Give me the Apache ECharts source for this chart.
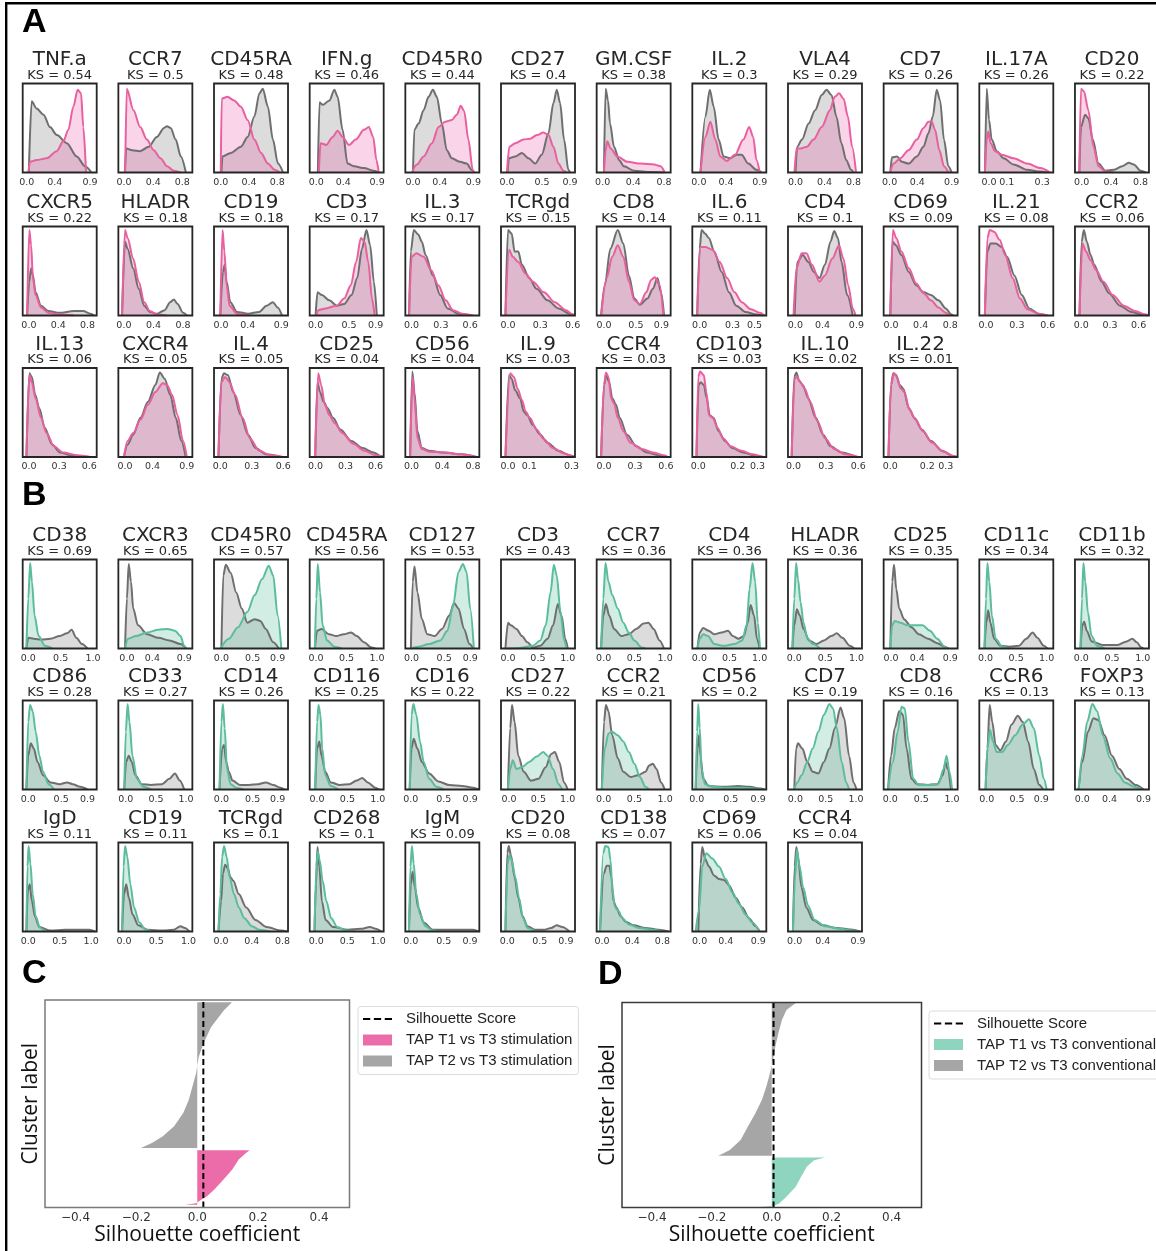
<!DOCTYPE html>
<html>
<head>
<meta charset="utf-8">
<title>Marker distributions and silhouette scores</title>
<script src="https://cdn.jsdelivr.net/npm/echarts@6/dist/echarts.min.js"></script>
<style>
  html, body { margin: 0; padding: 0; background: #ffffff; }
  #chart { width: 1156px; height: 1251px; }
</style>
</head>
<body>
<div id="chart"></div>
<script>
// ---------------- Panel A: stimulation markers (T2 vs T3 in grey, T1 vs T3 in pink) ----------------
const stimMarkers = ['TNF.a','CCR7','CD45RA','IFN.g','CD45R0','CD27','GM.CSF','IL.2','VLA4','CD7','IL.17A','CD20',
  'CXCR5','HLADR','CD19','CD3','IL.3','TCRgd','CD8','IL.6','CD4','CD69','IL.21','CCR2',
  'IL.13','CXCR4','IL.4','CD25','CD56','IL.9','CCR4','CD103','IL.10','IL.22'];
const stimKS = [0.54,0.5,0.48,0.46,0.44,0.4,0.38,0.3,0.29,0.26,0.26,0.22,
  0.22,0.18,0.18,0.17,0.17,0.15,0.14,0.11,0.1,0.09,0.08,0.06,
  0.06,0.05,0.05,0.04,0.04,0.03,0.03,0.03,0.02,0.01];
const stimTicks = [
  [0,0.4,0.9],[0,0.4,0.8],[0,0.4,0.8],[0,0.4,0.9],[0,0.4,0.9],[0,0.5,0.9],[0,0.4,0.8],[0,0.4,0.9],[0,0.4,0.8],[0,0.4,0.9],[0,0.1,0.3],[0,0.4,0.8],
  [0,0.4,0.8],[0,0.4,0.8],[0,0.4,0.9],[0,0.5,0.9],[0,0.3,0.6],[0,0.3,0.6],[0,0.5,0.9],[0,0.3,0.5],[0,0.4,0.9],[0,0.4,0.8],[0,0.3,0.6],[0,0.3,0.6],
  [0,0.3,0.6],[0,0.4,0.9],[0,0.3,0.6],[0,0.3,0.6],[0,0.4,0.8],[0,0.1,0.3],[0,0.3,0.6],[0,0.2,0.3],[0,0.3,0.6],[0,0.2,0.3]];
const stimRange = [
  [-0.057,0.995],[-0.079,0.939],[-0.095,0.952],[-0.097,0.997],[-0.114,0.989],[-0.085,0.971],[-0.078,0.887],[-0.097,0.997],[-0.104,0.918],[-0.087,0.987],[-0.055,0.363],[-0.091,0.914],
  [-0.085,0.925],[-0.075,0.925],[-0.105,1.0],[-0.089,1.02],[-0.064,0.694],[-0.065,0.622],[-0.116,1.045],[-0.067,0.607],[-0.109,0.982],[-0.1,0.9],[-0.065,0.654],[-0.066,0.708],
  [-0.062,0.673],[-0.097,0.981],[-0.06,0.646],[-0.059,0.681],[-0.081,0.881],[-0.033,0.316],[-0.072,0.646],[-0.03,0.344],[-0.051,0.634],[-0.036,0.364]];
// scaled density of TAP T2 vs T3 stimulation, [marker value, density]
const stimT2 = [
  [[0.03,0],[0.07,0.8],[0.14,0.72],[0.24,0.65],[0.33,0.51],[0.43,0.42],[0.57,0.33],[0.71,0.18],[0.83,0.07],[0.92,0]],
  [[0.01,0],[0.03,0.27],[0.11,0.25],[0.22,0.24],[0.34,0.29],[0.45,0.4],[0.55,0.5],[0.59,0.52],[0.64,0.5],[0.71,0.37],[0.78,0.18],[0.85,0]],
  [[0.01,0],[0.024,0.18],[0.143,0.22],[0.286,0.29],[0.381,0.4],[0.476,0.63],[0.548,0.89],[0.595,0.94],[0.667,0.74],[0.738,0.37],[0.81,0.1],[0.881,0]],
  [[0.024,0],[0.049,0.79],[0.097,0.76],[0.195,0.81],[0.268,0.93],[0.316,0.85],[0.389,0.48],[0.462,0.1],[0.559,0.07],[0.705,0.05],[0.851,0.02],[0.924,0]],
  [[0,0],[0.02,0.48],[0.084,0.55],[0.158,0.7],[0.232,0.85],[0.297,0.93],[0.356,0.85],[0.43,0.55],[0.504,0.25],[0.579,0.16],[0.702,0.12],[0.801,0.1],[0.875,0.03],[0.91,0]],
  [[0.009,0],[0.028,0.16],[0.118,0.18],[0.213,0.22],[0.308,0.16],[0.403,0.1],[0.497,0.2],[0.592,0.44],[0.663,0.78],[0.711,0.93],[0.758,0.78],[0.815,0.37],[0.876,0.03],[0.9,0]],
  [[0.017,0],[0.039,0.94],[0.07,0.81],[0.096,0.55],[0.148,0.29],[0.213,0.14],[0.278,0.07],[0.409,0.02],[0.626,0.005],[0.8,0]],
  [[0.024,0],[0.097,0.63],[0.161,0.93],[0.219,0.74],[0.292,0.37],[0.365,0.18],[0.462,0.16],[0.559,0.2],[0.632,0.2],[0.73,0.1],[0.851,0.03],[0.924,0]],
  [[0,0],[0.023,0.29],[0.09,0.37],[0.181,0.55],[0.271,0.7],[0.362,0.87],[0.429,0.93],[0.497,0.87],[0.565,0.63],[0.633,0.33],[0.7,0.14],[0.768,0.03],[0.8,0]],
  [[0.01,0],[0.034,0.17],[0.106,0.18],[0.178,0.12],[0.274,0.1],[0.395,0.18],[0.491,0.29],[0.563,0.44],[0.626,0.63],[0.683,0.93],[0.732,0.81],[0.789,0.37],[0.852,0.07],[0.9,0]],
  [[-0.023,0],[-0.013,0.94],[0,0.59],[0.015,0.37],[0.044,0.24],[0.082,0.16],[0.139,0.09],[0.215,0.03],[0.29,0.01],[0.328,0]],
  [[-0.032,0],[-0.009,0.51],[0.046,0.65],[0.091,0.61],[0.151,0.37],[0.229,0.1],[0.32,0.02],[0.434,0.03],[0.549,0.07],[0.64,0.11],[0.709,0.09],[0.8,0.02],[0.869,0]],
  [[-0.025,0],[0.005,0.38],[0.03,0.53],[0.055,0.45],[0.09,0.26],[0.165,0.11],[0.265,0.05],[0.415,0.03],[0.615,0.05],[0.74,0.05],[0.84,0.02],[0.89,0]],
  [[-0.025,0],[0.015,0.83],[0.05,0.75],[0.125,0.53],[0.2,0.3],[0.275,0.11],[0.35,0.04],[0.45,0.02],[0.55,0.06],[0.625,0.15],[0.675,0.18],[0.725,0.13],[0.8,0.03],[0.85,0]],
  [[-0.011,0],[0.028,0.49],[0.055,0.57],[0.083,0.38],[0.138,0.15],[0.237,0.04],[0.403,0.02],[0.569,0.04],[0.679,0.11],[0.773,0.15],[0.845,0.09],[0.911,0]],
  [[0,0],[0.028,0.26],[0.094,0.23],[0.206,0.17],[0.317,0.11],[0.428,0.13],[0.539,0.23],[0.623,0.42],[0.695,0.75],[0.762,0.96],[0.817,0.79],[0.873,0.38],[0.917,0]],
  [[-0.026,0],[-0.008,0.72],[0.023,0.96],[0.068,0.91],[0.105,0.83],[0.143,0.68],[0.218,0.45],[0.293,0.23],[0.368,0.08],[0.48,0.02],[0.593,0]],
  [[-0.024,0],[0,0.96],[0.034,0.92],[0.061,0.72],[0.095,0.72],[0.129,0.57],[0.197,0.42],[0.265,0.3],[0.367,0.17],[0.469,0.08],[0.571,0.02],[0.622,0]],
  [[-0.046,0],[0.012,0.34],[0.099,0.75],[0.215,0.96],[0.302,0.81],[0.389,0.45],[0.476,0.19],[0.564,0.12],[0.68,0.19],[0.767,0.3],[0.837,0.42],[0.895,0.26],[0.941,0]],
  [[-0.023,0],[0,0.75],[0.017,0.96],[0.05,0.92],[0.083,0.87],[0.133,0.72],[0.2,0.49],[0.267,0.26],[0.333,0.11],[0.417,0.04],[0.517,0.01],[0.583,0]],
  [[-0.011,0],[0.027,0.6],[0.109,0.68],[0.191,0.6],[0.273,0.49],[0.354,0.42],[0.436,0.57],[0.518,0.83],[0.572,0.95],[0.627,0.87],[0.681,0.6],[0.763,0.23],[0.845,0]],
  [[-0.01,0],[0.02,0.83],[0.065,0.79],[0.14,0.68],[0.24,0.49],[0.34,0.34],[0.44,0.26],[0.54,0.23],[0.64,0.17],[0.74,0.08],[0.815,0.01],[0.84,0]],
  [[-0.011,0],[0.014,0.72],[0.043,0.81],[0.097,0.81],[0.151,0.77],[0.205,0.66],[0.276,0.45],[0.348,0.23],[0.42,0.08],[0.51,0.02],[0.582,0]],
  [[-0.019,0],[0.004,0.83],[0.027,0.96],[0.058,0.83],[0.097,0.68],[0.135,0.57],[0.213,0.38],[0.29,0.25],[0.406,0.11],[0.522,0.04],[0.639,0.01],[0.697,0]],
  [[-0.025,0],[0.004,0.94],[0.029,0.9],[0.062,0.7],[0.102,0.55],[0.157,0.33],[0.229,0.14],[0.309,0.05],[0.448,0.01],[0.593,0]],
  [[-0.016,0],[0.038,0.14],[0.119,0.25],[0.226,0.44],[0.334,0.62],[0.442,0.81],[0.507,0.95],[0.577,0.88],[0.658,0.7],[0.739,0.44],[0.82,0.18],[0.884,0]],
  [[-0.018,0],[0.011,0.88],[0.035,0.94],[0.071,0.92],[0.124,0.73],[0.194,0.47],[0.265,0.25],[0.335,0.1],[0.441,0.03],[0.582,0]],
  [[-0.004,0],[0.019,0.84],[0.044,0.73],[0.081,0.62],[0.118,0.55],[0.174,0.44],[0.248,0.31],[0.359,0.18],[0.47,0.1],[0.581,0.05],[0.655,0.01],[0.681,0]],
  [[-0.019,0],[0.01,0.96],[0.038,0.73],[0.076,0.29],[0.133,0.1],[0.229,0.07],[0.419,0.05],[0.657,0.03],[0.848,0]],
  [[-0.012,0],[0.005,0.92],[0.017,0.88],[0.034,0.75],[0.057,0.66],[0.074,0.51],[0.091,0.47],[0.117,0.36],[0.152,0.25],[0.186,0.16],[0.238,0.07],[0.29,0.02],[0.316,0]],
  [[-0.029,0],[0,0.81],[0.022,0.92],[0.05,0.84],[0.079,0.66],[0.115,0.59],[0.151,0.44],[0.223,0.25],[0.312,0.12],[0.42,0.05],[0.528,0.02],[0.617,0]],
  [[-0.009,0],[0.002,0.81],[0.013,0.84],[0.028,0.81],[0.043,0.66],[0.058,0.47],[0.077,0.44],[0.103,0.29],[0.135,0.18],[0.172,0.1],[0.228,0.05],[0.294,0.01],[0.331,0]],
  [[-0.017,0],[0.007,0.9],[0.027,0.95],[0.051,0.86],[0.086,0.81],[0.137,0.66],[0.206,0.44],[0.274,0.25],[0.343,0.12],[0.446,0.05],[0.583,0]],
  [[-0.01,0],[0.004,0.81],[0.016,0.94],[0.032,0.92],[0.05,0.81],[0.07,0.77],[0.1,0.55],[0.13,0.44],[0.17,0.31],[0.22,0.18],[0.28,0.07],[0.34,0.01],[0.36,0]]
];
// scaled density of TAP T1 vs T3 stimulation
const stimT1 = [
  [[0.024,0],[0.047,0.12],[0.142,0.14],[0.284,0.16],[0.426,0.24],[0.521,0.35],[0.592,0.48],[0.663,0.74],[0.725,0.93],[0.772,0.89],[0.805,0.51],[0.843,0]],
  [[0.014,0],[0.037,0.94],[0.129,0.7],[0.222,0.51],[0.314,0.37],[0.407,0.25],[0.5,0.16],[0.592,0.07],[0.684,0.02],[0.777,0]],
  [[0,0],[0.014,0.83],[0.095,0.85],[0.19,0.81],[0.286,0.74],[0.381,0.59],[0.476,0.37],[0.571,0.22],[0.667,0.1],[0.762,0.03],[0.833,0]],
  [[0.039,0],[0.063,0.33],[0.146,0.31],[0.243,0.4],[0.316,0.47],[0.389,0.4],[0.486,0.31],[0.584,0.37],[0.705,0.48],[0.778,0.51],[0.842,0.4],[0.89,0.14],[0.924,0]],
  [[-0.015,0],[0.059,0.09],[0.158,0.18],[0.282,0.33],[0.381,0.51],[0.48,0.57],[0.579,0.59],[0.653,0.65],[0.712,0.75],[0.762,0.69],[0.826,0.37],[0.89,0.03],[0.91,0]],
  [[0,0],[0.033,0.29],[0.118,0.33],[0.237,0.37],[0.332,0.38],[0.426,0.42],[0.521,0.45],[0.592,0.42],[0.663,0.29],[0.734,0.1],[0.805,0.02],[0.853,0]],
  [[0.017,0],[0.039,0.25],[0.061,0.35],[0.104,0.27],[0.191,0.18],[0.322,0.12],[0.496,0.1],[0.67,0.09],[0.757,0.07],[0.809,0]],
  [[0.024,0],[0.097,0.4],[0.17,0.57],[0.243,0.37],[0.316,0.18],[0.414,0.13],[0.535,0.2],[0.657,0.37],[0.744,0.51],[0.803,0.4],[0.851,0.14],[0.9,0]],
  [[-0.014,0],[0.014,0.27],[0.068,0.27],[0.158,0.29],[0.249,0.37],[0.362,0.51],[0.475,0.7],[0.542,0.85],[0.601,0.89],[0.664,0.83],[0.723,0.63],[0.782,0.29],[0.836,0]],
  [[0.01,0],[0.058,0.1],[0.154,0.16],[0.274,0.25],[0.395,0.37],[0.491,0.5],[0.563,0.57],[0.611,0.57],[0.659,0.48],[0.722,0.25],[0.789,0.07],[0.852,0]],
  [[-0.023,0],[-0.013,0.37],[-0.004,0.46],[0.009,0.33],[0.034,0.24],[0.072,0.2],[0.139,0.16],[0.215,0.1],[0.29,0.05],[0.344,0]],
  [[-0.032,0],[-0.009,0.94],[0.032,0.91],[0.091,0.7],[0.16,0.29],[0.229,0.07],[0.32,0.01],[0.434,0]],
  [[-0.025,0],[0.005,0.96],[0.03,0.79],[0.055,0.42],[0.09,0.23],[0.165,0.09],[0.265,0.03],[0.415,0.01],[0.615,0]],
  [[-0.025,0],[0.015,0.96],[0.05,0.87],[0.125,0.64],[0.2,0.38],[0.275,0.15],[0.35,0.05],[0.45,0.01],[0.575,0]],
  [[-0.011,0],[0.022,0.96],[0.05,0.72],[0.083,0.34],[0.127,0.11],[0.237,0.02],[0.403,0]],
  [[0.011,0],[0.039,0.06],[0.15,0.08],[0.317,0.11],[0.428,0.19],[0.528,0.34],[0.606,0.6],[0.678,0.87],[0.734,0.83],[0.789,0.6],[0.845,0.19],[0.884,0]],
  [[-0.026,0],[0,0.66],[0.049,0.7],[0.124,0.66],[0.199,0.51],[0.274,0.34],[0.349,0.17],[0.424,0.06],[0.518,0.02],[0.63,0]],
  [[-0.024,0],[0.01,0.74],[0.044,0.66],[0.095,0.6],[0.163,0.47],[0.231,0.38],[0.333,0.26],[0.435,0.15],[0.537,0.06],[0.605,0.01],[0.622,0]],
  [[-0.046,0],[0.041,0.42],[0.128,0.66],[0.215,0.79],[0.302,0.66],[0.389,0.38],[0.476,0.17],[0.564,0.13],[0.662,0.26],[0.738,0.4],[0.796,0.43],[0.872,0.34],[0.93,0]],
  [[-0.023,0],[0.007,0.77],[0.05,0.77],[0.117,0.74],[0.183,0.6],[0.25,0.42],[0.317,0.26],[0.383,0.15],[0.467,0.07],[0.55,0.03],[0.59,0]],
  [[-0.027,0],[0.016,0.53],[0.093,0.7],[0.163,0.7],[0.245,0.57],[0.354,0.38],[0.436,0.45],[0.545,0.64],[0.643,0.79],[0.708,0.64],[0.779,0.34],[0.845,0.08],[0.888,0]],
  [[-0.01,0],[0.025,0.96],[0.07,0.87],[0.14,0.72],[0.24,0.53],[0.34,0.36],[0.44,0.25],[0.54,0.17],[0.64,0.09],[0.74,0.03],[0.79,0]],
  [[-0.011,0],[0.014,0.87],[0.036,0.96],[0.079,0.94],[0.133,0.85],[0.187,0.68],[0.258,0.42],[0.33,0.19],[0.402,0.07],[0.51,0.02],[0.6,0]],
  [[-0.019,0],[0.012,0.81],[0.05,0.72],[0.097,0.62],[0.155,0.51],[0.232,0.38],[0.329,0.23],[0.445,0.11],[0.561,0.05],[0.677,0.01],[0.708,0]],
  [[-0.025,0],[0.004,0.92],[0.029,0.84],[0.066,0.66],[0.12,0.44],[0.175,0.27],[0.248,0.12],[0.339,0.05],[0.484,0.02],[0.612,0]],
  [[-0.016,0],[0.038,0.18],[0.119,0.27],[0.226,0.42],[0.334,0.59],[0.442,0.73],[0.55,0.83],[0.614,0.81],[0.685,0.7],[0.765,0.47],[0.846,0.18],[0.9,0]],
  [[-0.018,0],[0.011,0.84],[0.046,0.9],[0.088,0.84],[0.141,0.7],[0.212,0.44],[0.282,0.21],[0.371,0.07],[0.477,0.02],[0.6,0]],
  [[-0.004,0],[0.026,0.94],[0.056,0.81],[0.093,0.59],[0.137,0.47],[0.192,0.38],[0.266,0.27],[0.377,0.15],[0.488,0.07],[0.599,0.02],[0.673,0]],
  [[-0.019,0],[0.014,0.9],[0.038,0.66],[0.076,0.21],[0.133,0.09],[0.229,0.06],[0.419,0.05],[0.657,0.03],[0.824,0]],
  [[-0.012,0],[0.01,0.94],[0.028,0.9],[0.045,0.77],[0.066,0.64],[0.083,0.51],[0.103,0.44],[0.134,0.31],[0.169,0.2],[0.212,0.1],[0.264,0.04],[0.307,0]],
  [[-0.029,0],[0,0.81],[0.018,0.95],[0.043,0.9],[0.068,0.66],[0.097,0.6],[0.133,0.44],[0.187,0.29],[0.258,0.16],[0.366,0.09],[0.474,0.05],[0.582,0.02],[0.617,0]],
  [[-0.009,0],[0,0.9],[0.009,0.96],[0.028,0.92],[0.041,0.73],[0.054,0.47],[0.073,0.44],[0.097,0.33],[0.125,0.21],[0.163,0.12],[0.219,0.07],[0.275,0.03],[0.322,0]],
  [[-0.017,0],[0.01,0.88],[0.034,0.9],[0.062,0.84],[0.103,0.77],[0.154,0.62],[0.223,0.4],[0.292,0.21],[0.377,0.09],[0.48,0.03],[0.6,0]],
  [[-0.01,0],[0.004,0.81],[0.02,0.94],[0.036,0.9],[0.056,0.77],[0.076,0.73],[0.104,0.53],[0.136,0.42],[0.176,0.29],[0.226,0.16],[0.286,0.06],[0.34,0.01],[0.36,0]]
];

// ---------------- Panel B: conventional markers (T2 vs T3 in grey, T1 vs T3 in teal) ----------------
const convMarkers = ['CD38','CXCR3','CD45R0','CD45RA','CD127','CD3','CCR7','CD4','HLADR','CD25','CD11c','CD11b',
  'CD86','CD33','CD14','CD116','CD16','CD27','CCR2','CD56','CD7','CD8','CCR6','FOXP3',
  'IgD','CD19','TCRgd','CD268','IgM','CD20','CD138','CD69','CCR4'];
const convKS = [0.69,0.65,0.57,0.56,0.53,0.43,0.36,0.36,0.36,0.35,0.34,0.32,
  0.28,0.27,0.26,0.25,0.22,0.22,0.21,0.2,0.19,0.16,0.13,0.13,
  0.11,0.11,0.1,0.1,0.09,0.08,0.07,0.06,0.04];
const convTicks = [
  [0,0.5,1],[0,0.4,0.9],[0,0.5,0.9],[0,0.5,1],[0,0.5,0.9],[0,0.5,1],[0,0.5,1],[0,0.5,1],[0,0.5,1],[0,0.4,0.9],[0,0.5,1],[0,0.5,1],
  [0,0.5,0.9],[0,0.5,1],[0,0.5,0.9],[0,0.5,1],[0,0.5,0.9],[0,0.5,1],[0,0.5,1],[0,0.5,0.9],[0,0.5,1],[0,0.5,1],[0,0.5,0.9],[0,0.4,0.9],
  [0,0.5,1],[0,0.5,1],[0,0.4,0.8],[0,0.5,1],[0,0.5,0.9],[0,0.5,0.9],[0,0.4,0.8],[0,0.4,0.9],[0,0.4,0.9]];
const convRange = [
  [-0.086,1.057],[-0.134,1.028],[-0.118,1.066],[-0.103,1.109],[-0.096,1.04],[-0.117,1.12],[-0.114,1.09],[-0.117,1.111],[-0.101,1.089],[-0.113,1.013],[-0.103,1.109],[-0.102,1.102],
  [-0.084,1.04],[-0.123,1.104],[-0.118,1.066],[-0.122,1.098],[-0.083,1.039],[-0.138,1.125],[-0.114,1.09],[-0.065,1.02],[-0.122,1.098],[-0.108,1.09],[-0.122,1.1],[-0.109,0.981],
  [-0.088,1.088],[-0.087,1.058],[-0.092,0.872],[-0.108,1.09],[-0.083,1.04],[-0.096,1.04],[-0.07,0.909],[-0.112,1.022],[-0.095,0.957]];
// scaled density of TAP T2 vs T3 conventional
const convT2 = [
  [[-0.029,0],[0,0.12],[0.086,0.11],[0.2,0.1],[0.343,0.11],[0.486,0.14],[0.6,0.17],[0.669,0.21],[0.743,0.12],[0.829,0.05],[0.914,0]],
  [[-0.029,0],[0,0.56],[0.029,0.95],[0.064,0.75],[0.099,0.45],[0.174,0.26],[0.32,0.16],[0.494,0.12],[0.668,0.09],[0.842,0.05],[0.93,0]],
  [[0,0],[0.03,0.82],[0.071,0.94],[0.148,0.85],[0.237,0.63],[0.326,0.45],[0.414,0.29],[0.533,0.33],[0.622,0.31],[0.71,0.22],[0.829,0.07],[0.918,0]],
  [[-0.018,0],[0.018,0.2],[0.091,0.22],[0.212,0.16],[0.333,0.14],[0.455,0.16],[0.576,0.18],[0.667,0.14],[0.788,0.07],[0.909,0.01],[0.97,0]],
  [[-0.011,0],[0.017,0.75],[0.045,0.92],[0.09,0.63],[0.158,0.33],[0.242,0.16],[0.354,0.14],[0.467,0.22],[0.579,0.37],[0.652,0.51],[0.72,0.45],[0.804,0.22],[0.889,0.05],[0.945,0]],
  [[-0.043,0],[0,0.29],[0.049,0.26],[0.141,0.22],[0.233,0.14],[0.325,0.07],[0.417,0.01],[0.539,0.03],[0.662,0.11],[0.754,0.26],[0.834,0.5],[0.895,0.37],[0.956,0.11],[0.999,0]],
  [[-0.042,0],[-0.006,0.37],[0.036,0.5],[0.09,0.37],[0.169,0.22],[0.289,0.14],[0.409,0.16],[0.53,0.22],[0.65,0.28],[0.728,0.29],[0.813,0.22],[0.909,0.09],[0.981,0]],
  [[-0.031,0],[0.006,0.18],[0.062,0.23],[0.154,0.2],[0.247,0.16],[0.37,0.18],[0.475,0.2],[0.555,0.14],[0.648,0.11],[0.74,0.14],[0.802,0.29],[0.851,0.49],[0.907,0.37],[0.956,0.11],[1.0,0]],
  [[-0.03,0],[0,0.26],[0.042,0.44],[0.089,0.37],[0.149,0.22],[0.238,0.09],[0.357,0.05],[0.476,0.09],[0.595,0.14],[0.684,0.17],[0.774,0.12],[0.893,0.03],[0.964,0]],
  [[-0.011,0],[0.017,0.75],[0.045,0.94],[0.079,0.67],[0.124,0.45],[0.197,0.33],[0.309,0.24],[0.422,0.16],[0.563,0.11],[0.703,0.06],[0.816,0.02],[0.872,0]],
  [[-0.018,0],[0.012,0.29],[0.042,0.43],[0.079,0.29],[0.139,0.11],[0.242,0.03],[0.394,0.02],[0.545,0.03],[0.667,0.11],[0.77,0.18],[0.848,0.12],[0.952,0.03],[1.012,0]],
  [[-0.012,0],[0.018,0.26],[0.048,0.3],[0.09,0.2],[0.169,0.08],[0.349,0.04],[0.59,0.04],[0.74,0.08],[0.831,0.11],[0.903,0.07],[0.981,0.01],[1.011,0]],
  [[-0.028,0],[0,0.38],[0.039,0.52],[0.084,0.46],[0.141,0.31],[0.225,0.16],[0.338,0.08],[0.478,0.06],[0.591,0.08],[0.675,0.06],[0.788,0.03],[0.9,0]],
  [[-0.025,0],[0.006,0.31],[0.049,0.38],[0.098,0.31],[0.159,0.16],[0.264,0.06],[0.417,0.05],[0.6,0.06],[0.723,0.12],[0.815,0.18],[0.895,0.1],[0.969,0]],
  [[-0.03,0],[0.012,0.46],[0.041,0.5],[0.077,0.31],[0.118,0.2],[0.178,0.1],[0.296,0.05],[0.444,0.05],[0.592,0.06],[0.71,0.08],[0.829,0.05],[0.947,0.02],[1.006,0]],
  [[-0.031,0],[0,0.46],[0.037,0.54],[0.073,0.38],[0.134,0.2],[0.226,0.08],[0.378,0.05],[0.531,0.06],[0.653,0.1],[0.744,0.13],[0.836,0.08],[0.958,0.02],[1.019,0]],
  [[-0.017,0],[0.011,0.46],[0.044,0.57],[0.1,0.46],[0.167,0.31],[0.278,0.18],[0.417,0.09],[0.584,0.05],[0.778,0.04],[0.945,0.02],[1.029,0]],
  [[-0.019,0],[0.019,0.69],[0.05,0.95],[0.094,0.76],[0.156,0.38],[0.25,0.2],[0.375,0.1],[0.5,0.12],[0.625,0.25],[0.719,0.4],[0.781,0.42],[0.856,0.31],[0.938,0.08],[1.0,0]],
  [[-0.03,0],[0.006,0.76],[0.036,0.95],[0.078,0.88],[0.139,0.61],[0.229,0.35],[0.319,0.2],[0.439,0.14],[0.56,0.16],[0.68,0.2],[0.74,0.27],[0.8,0.29],[0.86,0.23],[0.933,0.08],[0.993,0]],
  [[-0.016,0],[0.011,0.46],[0.033,0.61],[0.055,0.38],[0.093,0.12],[0.174,0.04],[0.392,0.03],[0.61,0.04],[0.774,0.03],[0.937,0.01],[0.992,0]],
  [[-0.018,0],[0.012,0.46],[0.043,0.52],[0.116,0.46],[0.195,0.31],[0.287,0.2],[0.378,0.18],[0.47,0.31],[0.561,0.46],[0.653,0.69],[0.744,0.92],[0.805,0.8],[0.885,0.38],[0.958,0.08],[1.007,0]],
  [[-0.036,0],[0.012,0.38],[0.072,0.69],[0.144,0.88],[0.204,0.84],[0.264,0.46],[0.341,0.12],[0.431,0.06],[0.611,0.05],[0.761,0.06],[0.85,0.16],[0.893,0.31],[0.928,0.23],[0.982,0]],
  [[-0.018,0],[0.012,0.46],[0.049,0.95],[0.092,0.76],[0.147,0.5],[0.226,0.44],[0.318,0.54],[0.41,0.73],[0.514,0.83],[0.594,0.76],[0.685,0.54],[0.777,0.23],[0.869,0.05],[0.93,0]],
  [[-0.055,0],[0,0.31],[0.082,0.65],[0.164,0.8],[0.234,0.78],[0.327,0.61],[0.436,0.38],[0.545,0.23],[0.654,0.12],[0.79,0.05],[0.9,0]],
  [[-0.029,0],[-0.006,0.46],[0.024,0.53],[0.059,0.34],[0.106,0.17],[0.176,0.05],[0.353,0.01],[0.588,0.02],[0.824,0.02],[0.971,0.02],[1.059,0]],
  [[-0.029,0],[0,0.42],[0.035,0.53],[0.075,0.38],[0.133,0.19],[0.22,0.07],[0.364,0.02],[0.595,0.01],[0.769,0.02],[0.873,0.06],[0.942,0.04],[1.012,0]],
  [[-0.034,0],[0,0.34],[0.024,0.65],[0.053,0.75],[0.087,0.71],[0.121,0.61],[0.159,0.57],[0.231,0.42],[0.328,0.27],[0.448,0.13],[0.593,0.05],[0.786,0.01],[0.858,0]],
  [[-0.03,0],[-0.006,0.53],[0.018,0.95],[0.048,0.73],[0.09,0.34],[0.15,0.13],[0.27,0.05],[0.509,0.02],[0.719,0.03],[0.869,0.05],[0.958,0.03],[1.048,0]],
  [[-0.028,0],[0,0.53],[0.028,0.67],[0.061,0.5],[0.111,0.27],[0.195,0.1],[0.334,0.02],[0.556,0.02],[0.778,0.02],[0.945,0.02],[1.029,0]],
  [[-0.028,0],[0,0.88],[0.023,0.96],[0.056,0.86],[0.113,0.61],[0.169,0.38],[0.236,0.17],[0.309,0.06],[0.422,0.02],[0.563,0.02],[0.675,0.04],[0.759,0.07],[0.844,0.05],[0.956,0]],
  [[-0.026,0],[0.026,0.65],[0.061,0.74],[0.096,0.74],[0.126,0.61],[0.152,0.34],[0.191,0.27],[0.248,0.17],[0.313,0.11],[0.422,0.07],[0.574,0.04],[0.748,0.02],[0.879,0]],
  [[-0.02,0],[0.015,0.76],[0.041,0.95],[0.082,0.82],[0.143,0.73],[0.22,0.63],[0.296,0.59],[0.373,0.58],[0.45,0.52],[0.552,0.38],[0.654,0.27],[0.756,0.15],[0.858,0.06],[0.92,0]],
  [[-0.024,0],[0,0.73],[0.024,0.95],[0.052,0.82],[0.095,0.5],[0.166,0.27],[0.261,0.13],[0.403,0.07],[0.593,0.04],[0.83,0.02],[0.924,0]]
];
// scaled density of TAP T1 vs T3 conventional
const convT1 = [
  [[-0.029,0],[0,0.56],[0.029,0.96],[0.057,0.75],[0.097,0.37],[0.16,0.14],[0.257,0.03],[0.371,0]],
  [[-0.029,0],[0.017,0.11],[0.145,0.14],[0.32,0.18],[0.494,0.21],[0.639,0.22],[0.755,0.2],[0.842,0.14],[0.9,0.03],[0.93,0]],
  [[-0.012,0],[0.118,0.11],[0.266,0.24],[0.414,0.41],[0.533,0.6],[0.651,0.78],[0.758,0.93],[0.829,0.82],[0.9,0.37],[0.959,0]],
  [[-0.018,0],[0.006,0.56],[0.03,0.95],[0.067,0.63],[0.109,0.26],[0.182,0.09],[0.303,0.02],[0.424,0]],
  [[-0.011,0],[0.101,0.02],[0.27,0.05],[0.439,0.09],[0.551,0.2],[0.636,0.48],[0.72,0.86],[0.788,0.95],[0.844,0.86],[0.9,0.45],[0.956,0]],
  [[-0.012,0],[0.172,0.004],[0.417,0.03],[0.539,0.09],[0.631,0.26],[0.711,0.63],[0.766,0.94],[0.815,0.82],[0.877,0.41],[0.938,0.09],[0.981,0]],
  [[-0.042,0],[-0.006,0.56],[0.03,0.96],[0.078,0.75],[0.139,0.6],[0.229,0.45],[0.319,0.29],[0.409,0.18],[0.5,0.09],[0.62,0.01],[0.68,0]],
  [[-0.031,0],[0.006,0.11],[0.062,0.16],[0.142,0.14],[0.247,0.05],[0.401,0.03],[0.586,0.05],[0.71,0.09],[0.784,0.26],[0.833,0.67],[0.882,0.96],[0.926,0.75],[0.969,0.29],[1.006,0]],
  [[-0.03,0],[0,0.56],[0.03,0.96],[0.06,0.78],[0.101,0.52],[0.149,0.29],[0.208,0.12],[0.298,0.05],[0.417,0]],
  [[-0.011,0],[0.017,0.26],[0.056,0.31],[0.141,0.29],[0.253,0.26],[0.366,0.26],[0.478,0.26],[0.591,0.2],[0.703,0.11],[0.816,0.02],[0.872,0]],
  [[-0.018,0],[0.006,0.56],[0.03,0.96],[0.061,0.75],[0.103,0.37],[0.164,0.11],[0.273,0.02],[0.394,0]],
  [[-0.012,0],[0.012,0.56],[0.036,0.96],[0.066,0.75],[0.108,0.41],[0.169,0.14],[0.259,0.03],[0.379,0]],
  [[-0.028,0],[0,0.76],[0.028,0.95],[0.068,0.88],[0.113,0.65],[0.169,0.38],[0.225,0.2],[0.309,0.06],[0.394,0]],
  [[-0.025,0],[0,0.65],[0.031,0.96],[0.061,0.76],[0.11,0.38],[0.184,0.12],[0.294,0.03],[0.417,0]],
  [[-0.03,0],[0,0.76],[0.024,0.96],[0.053,0.69],[0.089,0.23],[0.148,0.06],[0.237,0.02],[0.355,0]],
  [[-0.031,0],[0,0.76],[0.024,0.95],[0.055,0.84],[0.085,0.46],[0.134,0.16],[0.226,0.04],[0.348,0]],
  [[-0.017,0],[0.011,0.84],[0.039,0.96],[0.083,0.84],[0.139,0.54],[0.195,0.31],[0.278,0.12],[0.389,0.03],[0.5,0]],
  [[-0.019,0],[0.019,0.23],[0.063,0.33],[0.125,0.23],[0.219,0.25],[0.344,0.31],[0.469,0.37],[0.581,0.42],[0.656,0.38],[0.75,0.23],[0.844,0.06],[0.906,0]],
  [[-0.03,0],[0.018,0.46],[0.078,0.63],[0.139,0.65],[0.229,0.61],[0.319,0.54],[0.409,0.42],[0.5,0.29],[0.59,0.14],[0.68,0.03],[0.74,0]],
  [[-0.016,0],[0.005,0.65],[0.022,0.96],[0.044,0.69],[0.071,0.23],[0.12,0.06],[0.229,0.03],[0.392,0.02],[0.665,0.02],[0.883,0.01],[0.965,0]],
  [[-0.018,0],[0.031,0.08],[0.104,0.16],[0.195,0.31],[0.287,0.46],[0.378,0.65],[0.47,0.84],[0.561,0.96],[0.622,0.91],[0.683,0.69],[0.763,0.31],[0.836,0.08],[0.885,0]],
  [[-0.036,0],[0.042,0.31],[0.12,0.65],[0.18,0.93],[0.234,0.91],[0.293,0.54],[0.371,0.12],[0.461,0.05],[0.611,0.05],[0.779,0.06],[0.863,0.23],[0.91,0.38],[0.958,0.2],[1.0,0]],
  [[-0.018,0],[0.012,0.46],[0.055,0.67],[0.104,0.54],[0.165,0.42],[0.257,0.42],[0.349,0.5],[0.471,0.61],[0.594,0.73],[0.698,0.79],[0.777,0.69],[0.869,0.38],[0.942,0.12],[0.991,0]],
  [[-0.055,0],[0,0.38],[0.071,0.76],[0.147,0.96],[0.218,0.88],[0.3,0.61],[0.409,0.35],[0.518,0.18],[0.627,0.08],[0.763,0.03],[0.872,0]],
  [[-0.029,0],[-0.012,0.73],[0.006,0.96],[0.035,0.76],[0.071,0.42],[0.118,0.17],[0.188,0.04],[0.265,0]],
  [[-0.029,0],[-0.006,0.73],[0.017,0.96],[0.052,0.84],[0.098,0.53],[0.156,0.27],[0.237,0.1],[0.335,0.02],[0.422,0]],
  [[-0.034,0],[-0.01,0.42],[0.014,0.84],[0.039,0.96],[0.072,0.84],[0.111,0.61],[0.169,0.42],[0.231,0.27],[0.304,0.15],[0.4,0.06],[0.496,0.02],[0.641,0]],
  [[-0.03,0],[0,0.73],[0.024,0.9],[0.054,0.8],[0.102,0.57],[0.162,0.34],[0.24,0.15],[0.341,0.05],[0.479,0.01],[0.629,0]],
  [[-0.028,0],[-0.006,0.73],[0.017,0.96],[0.044,0.76],[0.083,0.42],[0.139,0.19],[0.222,0.06],[0.334,0.01],[0.417,0]],
  [[-0.028,0],[0.006,0.76],[0.034,0.86],[0.068,0.8],[0.124,0.61],[0.18,0.38],[0.242,0.15],[0.309,0.04],[0.422,0]],
  [[-0.026,0],[0.017,0.88],[0.043,0.96],[0.087,0.95],[0.113,0.8],[0.139,0.46],[0.174,0.27],[0.218,0.23],[0.27,0.15],[0.357,0.08],[0.487,0.04],[0.661,0.02],[0.792,0]],
  [[-0.061,0],[-0.01,0.23],[0.041,0.73],[0.102,0.88],[0.194,0.82],[0.296,0.73],[0.399,0.59],[0.501,0.44],[0.603,0.31],[0.705,0.19],[0.807,0.1],[0.91,0]],
  [[-0.024,0],[0.005,0.61],[0.033,0.92],[0.071,0.73],[0.119,0.5],[0.19,0.29],[0.284,0.13],[0.427,0.06],[0.64,0.03],[0.83,0.01],[0.9,0]]
];

// ---------------- Panels C and D: silhouette coefficients, [coefficient, sample rank] sorted within cluster ----------------
const silTicks = [-0.4, -0.2, 0, 0.2, 0.4];
const silStimScore = 0.02;
const silStimT2 = [[-0.185,28.7],[-0.149,31.1],[-0.113,34.3],[-0.076,39.1],[-0.046,45.5],[-0.028,51.8],[-0.016,58.2],[-0.004,64.6],[0.005,72.6],[0.02,78.9],[0.045,86.9],[0.087,94.9],[0.114,98.9]];
const silStimT1 = [[-0.04,1.3],[-0.004,2.1],[0.008,3.2],[0.033,5.6],[0.057,8.8],[0.087,13.6],[0.115,18.3],[0.136,23.1],[0.16,26.3],[0.172,27.6]];
const silConvScore = 0.006;
const silConvT2 = [[-0.178,25.2],[-0.14,28.0],[-0.104,32.9],[-0.08,39.4],[-0.055,45.9],[-0.033,52.4],[-0.018,59.0],[-0.006,65.5],[0.004,72.0],[0.012,78.5],[0.022,85.0],[0.034,91.5],[0.049,96.4],[0.08,99.7]];
const silConvT1 = [[-0.037,0.2],[0.006,0.7],[0.025,2.0],[0.049,5.2],[0.08,10.1],[0.098,15.0],[0.117,19.9],[0.141,23.1],[0.178,24.4]];

// ---------------- layout and styling ----------------
const COL_LEFT = 22.7, COL_PITCH = 95.66, BOX_W = 74, BOX_H = 89, PER_ROW = 12;
const ROW_TOPS_A = [83.5, 226.5, 368];
const ROW_TOPS_B = [559.5, 700.5, 842.5];
const GREY_LINE = '#6f6f6f', GREY_FILL = '#8a8a8a';
const PINK_LINE = '#e8609e', PINK_FILL = '#e7298a';
const TEAL_LINE = '#5bbd9b', TEAL_FILL = '#66c2a5';
const SIL_PINK = '#ec6ca9', SIL_GREY = '#a6a6a6', SIL_TEAL = '#8ed4be';
const TEXT_DARK = '#262626';
// three short dashes, used as the legend key of the dashed score line
const DASH_ICON = 'path://M0,0h7v2h-7z M10.5,0h7v2h-7z M21,0h7v2h-7z';

const grids = [], xAxes = [], yAxes = [], series = [], graphics = [];

function densitySeries(gi, data, lineColor, fillColor, fillOpacity) {
  return {
    type: 'line', xAxisIndex: gi, yAxisIndex: gi, data: data,
    symbol: 'none', showSymbol: false, smooth: 0.3, smoothMonotone: 'x',
    lineStyle: { color: lineColor, width: 2 },
    areaStyle: { color: fillColor, opacity: fillOpacity },
    silent: true, z: 3
  };
}

function addDensityPanel(markers, ks, ticks, ranges, refCurves, cmpCurves, rowTops, lineColor, fillColor, fillOpacity) {
  markers.forEach((name, i) => {
    const left = COL_LEFT + (i % PER_ROW) * COL_PITCH;
    const top = rowTops[Math.floor(i / PER_ROW)];
    const gi = grids.length;
    grids.push({ left: left, top: top, width: BOX_W, height: BOX_H, show: false });
    xAxes.push({
      type: 'value', gridIndex: gi, min: ranges[i][0], max: ranges[i][1],
      axisLine: { show: false }, axisTick: { show: false }, splitLine: { show: false },
      axisLabel: {
        customValues: ticks[i], formatter: v => v.toFixed(1),
        fontFamily: 'DejaVu Sans', fontSize: 9.5, color: '#333', margin: 5
      }
    });
    yAxes.push({ type: 'value', gridIndex: gi, min: 0, max: 1, show: false });
    series.push(densitySeries(gi, refCurves[i], GREY_LINE, GREY_FILL, 0.3));
    series.push(densitySeries(gi, cmpCurves[i], lineColor, fillColor, fillOpacity));
    const cx = left + BOX_W / 2;
    graphics.push({
      type: 'rect', z: 50, silent: true,
      shape: { x: left, y: top, width: BOX_W, height: BOX_H },
      style: { fill: 'none', stroke: TEXT_DARK, lineWidth: 1.8 }
    });
    graphics.push({
      type: 'text', z: 50, silent: true, x: cx, y: top - 23.6,
      style: { text: name, font: '20px "DejaVu Sans"', fill: TEXT_DARK, textAlign: 'center', textVerticalAlign: 'middle' }
    });
    graphics.push({
      type: 'text', z: 50, silent: true, x: cx, y: top - 8.3,
      style: { text: 'KS = ' + ks[i], font: '13px "DejaVu Sans"', fill: TEXT_DARK, textAlign: 'center', textVerticalAlign: 'middle' }
    });
  });
}

addDensityPanel(stimMarkers, stimKS, stimTicks, stimRange, stimT2, stimT1, ROW_TOPS_A, PINK_LINE, PINK_FILL, 0.2);
addDensityPanel(convMarkers, convKS, convTicks, convRange, convT2, convT1, ROW_TOPS_B, TEAL_LINE, TEAL_FILL, 0.3);

// silhouette panel: one polygon per cluster drawn through the axis scales
function clusterSeries(gi, name, data, color) {
  return {
    type: 'custom', name: name, xAxisIndex: gi, yAxisIndex: gi, data: data,
    encode: { x: 0, y: 1 }, itemStyle: { color: color }, silent: true, z: 2,
    renderItem: (params, api) => {
      if (params.dataIndex !== 0) return null;
      const pts = [api.coord([0, data[0][1]])];
      data.forEach(d => pts.push(api.coord(d)));
      pts.push(api.coord([0, data[data.length - 1][1]]));
      return { type: 'polygon', shape: { points: pts }, style: { fill: color } };
    }
  };
}

function addSilhouettePanel(box, borderColor, score, t1Name, t1Data, t1Color, t2Name, t2Data) {
  const gi = grids.length;
  grids.push({ left: box.left, top: box.top, width: box.width, height: box.height, show: false });
  xAxes.push({
    type: 'value', gridIndex: gi, min: -0.5, max: 0.5,
    axisLine: { show: false }, axisTick: { show: false }, splitLine: { show: false },
    axisLabel: {
      customValues: silTicks, margin: 4,
      formatter: v => (v < 0 ? '\u2212' : '') + Math.abs(v).toFixed(1),
      fontFamily: 'DejaVu Sans', fontSize: 12, color: '#333'
    },
    name: 'Silhouette coefficient', nameLocation: 'middle', nameGap: 14,
    nameTextStyle: { fontFamily: 'Open Sans', fontSize: 21, color: '#111' }
  });
  yAxes.push({
    type: 'value', gridIndex: gi, min: 0, max: 100,
    axisLine: { show: false }, axisTick: { show: false }, axisLabel: { show: false }, splitLine: { show: false },
    name: 'Cluster label', nameLocation: 'middle', nameRotate: 90, nameGap: 3,
    nameTextStyle: { fontFamily: 'Open Sans', fontSize: 21, color: '#111' }
  });
  series.push(clusterSeries(gi, t2Name, t2Data, SIL_GREY));
  series.push(clusterSeries(gi, t1Name, t1Data, t1Color));
  series.push({
    type: 'line', name: 'Silhouette Score', xAxisIndex: gi, yAxisIndex: gi,
    data: [[score, 0], [score, 100]], symbol: 'none', showSymbol: false,
    itemStyle: { color: '#000' },
    lineStyle: { color: '#000', width: 2, type: [6, 3.5] }, silent: true, z: 5
  });
  graphics.push({
    type: 'rect', z: 50, silent: true,
    shape: { x: box.left, y: box.top, width: box.width, height: box.height },
    style: { fill: 'none', stroke: borderColor, lineWidth: 1.5 }
  });
}

addSilhouettePanel({ left: 45, top: 1000, width: 304.5, height: 207.5 }, '#7a7a7a', silStimScore,
  'TAP T1 vs T3 stimulation', silStimT1, SIL_PINK, 'TAP T2 vs T3 stimulation', silStimT2);
addSilhouettePanel({ left: 622, top: 1002.5, width: 299.5, height: 205 }, '#3a3a3a', silConvScore,
  'TAP T1 vs T3 conventional', silConvT1, SIL_TEAL, 'TAP T2 vs T3 conventional', silConvT2);

function legendBlock(left, top, names) {
  return {
    orient: 'vertical', left: left, top: top, selectedMode: false,
    padding: [4, 6, 5, 5], itemGap: 4, itemWidth: 29, itemHeight: 11,
    backgroundColor: '#ffffff', borderColor: '#dcdcdc', borderWidth: 1, borderRadius: 3,
    textStyle: { fontFamily: 'Liberation Sans', fontSize: 15, color: '#222', lineHeight: 17, padding: [0, 0, 0, 9] },
    data: [
      { name: 'Silhouette Score', icon: DASH_ICON, itemStyle: { color: '#000', borderWidth: 0 } },
      { name: names[0], icon: 'rect' },
      { name: names[1], icon: 'rect' }
    ]
  };
}

// panel letters and figure frame
[['A', 22, 23], ['B', 22, 496], ['C', 22, 974], ['D', 598, 975]].forEach(([t, x, y]) => {
  graphics.push({
    type: 'text', z: 50, silent: true, x: x, y: y,
    style: { text: t, font: 'bold 34px "Liberation Sans"', fill: '#000', textAlign: 'left', textVerticalAlign: 'middle' }
  });
});
graphics.push({ type: 'rect', z: 60, silent: true, shape: { x: 5, y: 2, width: 2.4, height: 1249 }, style: { fill: '#000' } });
graphics.push({ type: 'rect', z: 60, silent: true, shape: { x: 5, y: 2, width: 1151, height: 2.4 }, style: { fill: '#000' } });

const chart = echarts.init(document.getElementById('chart'), null, { renderer: 'canvas', width: 1156, height: 1251 });
chart.setOption({
  backgroundColor: '#ffffff',
  animation: false,
  grid: grids,
  xAxis: xAxes,
  yAxis: yAxes,
  legend: [
    legendBlock(358, 1006.5, ['TAP T1 vs T3 stimulation', 'TAP T2 vs T3 stimulation']),
    legendBlock(929, 1011, ['TAP T1 vs T3 conventional', 'TAP T2 vs T3 conventional'])
  ],
  series: series,
  graphic: { elements: graphics }
});
</script>
</body>
</html>
